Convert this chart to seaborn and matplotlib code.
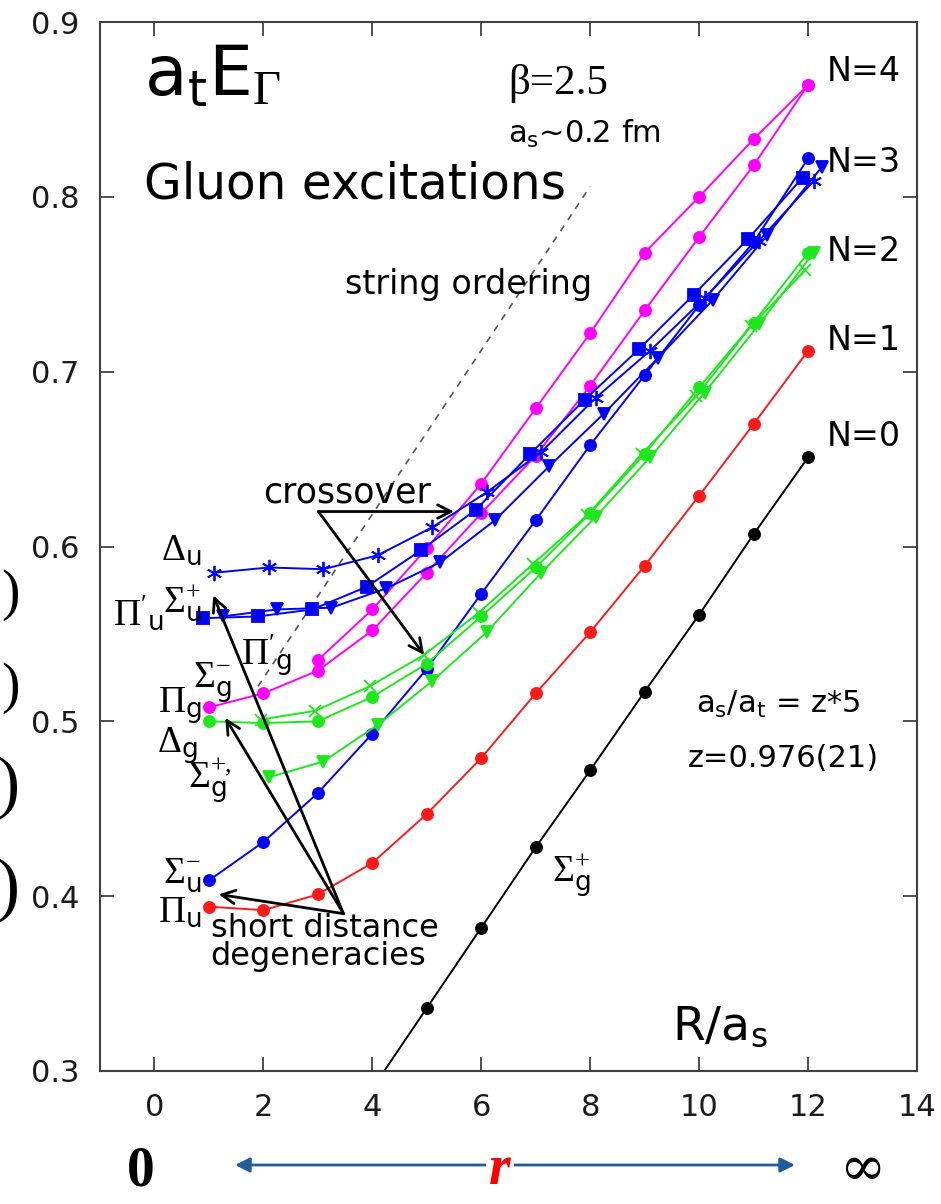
import matplotlib
matplotlib.use('Agg')
import matplotlib.pyplot as plt
import numpy as np
import seaborn as sns

# separations R/a_s
R_1 = list(range(1, 13))
R_2 = list(range(2, 13))
R_3 = list(range(3, 13))
R_4 = list(range(4, 13))

# a_t E
sigma_g_plus = [0.290, 0.336, 0.382, 0.428, 0.472, 0.517, 0.561, 0.607, 0.651]          # R_4
pi_u = [0.394, 0.392, 0.401, 0.419, 0.447, 0.479, 0.516, 0.551, 0.589, 0.629, 0.670, 0.712]
sigma_u_minus = [0.409, 0.431, 0.459, 0.493, 0.530, 0.573, 0.615, 0.658, 0.698, 0.738, 0.774, 0.822]
delta_g = [0.500, 0.499, 0.500, 0.514, 0.533, 0.560, 0.588, 0.619, 0.653, 0.691, 0.728, 0.768]
pi_g_prime = [0.501, 0.506, 0.520, 0.538, 0.562, 0.590, 0.618, 0.653, 0.686, 0.726, 0.758]  # R_2
sigma_g_plus_prime = [0.468, 0.477, 0.498, 0.523, 0.551, 0.585, 0.617, 0.651, 0.688, 0.727, 0.768]  # R_2
pi_g = [0.508, 0.516, 0.529, 0.552, 0.585, 0.619, 0.652, 0.692, 0.735, 0.777, 0.818, 0.864]
sigma_g_minus = [0.535, 0.564, 0.599, 0.636, 0.679, 0.722, 0.768, 0.800, 0.833, 0.864]  # R_3
delta_u = [0.585, 0.588, 0.587, 0.595, 0.611, 0.631, 0.654, 0.685, 0.712, 0.742, 0.775, 0.809]
sigma_u_plus = [0.559, 0.560, 0.564, 0.577, 0.598, 0.621, 0.653, 0.684, 0.713, 0.744, 0.776, 0.811]
pi_u_prime = [0.560, 0.564, 0.565, 0.576, 0.591, 0.615, 0.646, 0.676, 0.708, 0.741, 0.778, 0.817]

# dashed "string ordering" guide
string_x = [1.9, 8.0]
string_y = [0.520, 0.806]

MAG, BLU, GRN, RED = '#ff00ff', '#0000ff', '#1de81d', '#ff1a1a'

series = [
    # x, y, colour, marker, x-shift
    (R_4, sigma_g_plus, 'black', 'o', 0.0),
    (R_1, pi_u, RED, 'o', 0.0),
    (R_1, sigma_u_minus, BLU, 'o', 0.0),
    (R_1, delta_g, GRN, 'o', 0.0),
    (R_2, pi_g_prime, GRN, 'x', -0.05),
    (R_2, sigma_g_plus_prime, GRN, 'v', 0.1),
    (R_1, pi_g, MAG, 'o', 0.0),
    (R_3, sigma_g_minus, MAG, 'o', 0.0),
    (R_1, delta_u, BLU, (6, 2, 0), 0.1),
    (R_1, sigma_u_plus, BLU, 's', -0.1),
    (R_1, pi_u_prime, BLU, 'v', 0.25),
]

sns.set_theme(style='ticks')
plt.rcParams['font.family'] = ['DejaVu Sans']
plt.rcParams['text.color'] = 'black'
plt.rcParams['mathtext.fontset'] = 'custom'
plt.rcParams['mathtext.rm'] = 'Liberation Serif'
plt.rcParams['mathtext.it'] = 'Liberation Serif:italic'
plt.rcParams['mathtext.bf'] = 'Liberation Serif:bold'
plt.rcParams['mathtext.sf'] = 'DejaVu Sans'

fig = plt.figure(figsize=(9.41, 12.04), dpi=100)
ax = fig.add_axes([100 / 941, 1 - 1071 / 1204, 817 / 941, 1049 / 1204])

ax.plot(string_x, string_y, ls=(0, (4, 4)), color='#555555', lw=1.2)

for xs, ys, c, m, dx in series:
    ms = 11 if m == (6, 2, 0) else (9 if m in ('x', 'v') else 8)
    sns.lineplot(x=np.array(xs) + dx, y=ys, color=c, marker=m, markersize=ms,
                 markeredgecolor=c, markeredgewidth=1.3, lw=1.4, ax=ax,
                 sort=False, errorbar=None)

ax.set_xlim(-1, 14)
ax.set_ylim(0.3, 0.9)
ax.set_xticks(range(0, 15, 2))
ax.set_yticks([0.3, 0.4, 0.5, 0.6, 0.7, 0.8, 0.9])
ax.set_yticklabels(['0.3', '0.4', '0.5', '0.6', '0.7', '0.8', '0.9'])
ax.tick_params(direction='in', length=10, width=1.3, top=True, right=True,
               labelsize=22, colors='#404040', labelcolor='#1a1a1a')
ax.tick_params(axis='x', pad=16)
ax.tick_params(axis='y', pad=15)
for s in ax.spines.values():
    s.set_color('#404040')
    s.set_linewidth(1.5)

# titles and notes
ax.text(-0.2, 0.858, r'$\mathsf{a_tE}_{\Gamma}$', fontsize=50, va='baseline')
ax.text(-0.2, 0.799, 'Gluon excitations', fontsize=35, va='baseline')
ax.text(6.5, 0.859, 'β=2.5', fontsize=31, va='baseline', family='Liberation Serif')
ax.text(6.5, 0.831, r'$\mathsf{a_s}$~0.2 fm', fontsize=22, va='baseline')
ax.text(3.5, 0.750, 'string ordering', fontsize=24, va='center')
ax.text(2.0, 0.631, 'crossover', fontsize=25, va='center')
ax.text(1.03, 0.3765, 'short distance', fontsize=23, va='baseline')
ax.text(1.03, 0.3605, 'degeneracies', fontsize=23, va='baseline')
ax.text(9.95, 0.505, r'$\mathsf{a_s/a_t}$ = z*5', fontsize=22, va='baseline')
ax.text(9.8, 0.474, 'z=0.976(21)', fontsize=22, va='baseline')
ax.text(9.5, 0.318, r'R/$\mathsf{a_s}$', fontsize=34, va='baseline')

for lab, yv in zip(['N=4', 'N=3', 'N=2', 'N=1', 'N=0'], [0.8715, 0.8195, 0.769, 0.7176, 0.6627]):
    ax.text(12.35, yv, lab, fontsize=24, va='center')

# state labels
sty = dict(fontsize=27, va='center')
ax.text(0.87, 0.598, r'$\Delta_{\mathsf{u}}$', ha='right', **sty)
ax.text(0.87, 0.568, r'$\Sigma^{+}_{\mathsf{u}}$', ha='right', **sty)
ax.text(0.16, 0.562, r"$\Pi'_{\mathsf{u}}$", ha='right', **sty)
ax.text(1.58, 0.538, r"$\Pi'_{\mathsf{g}}$", ha='left', **sty)
ax.text(1.42, 0.522, r'$\Sigma^{-}_{\mathsf{g}}$', ha='right', **sty)
ax.text(0.87, 0.509, r'$\Pi_{\mathsf{g}}$', ha='right', **sty)
ax.text(0.80, 0.486, r'$\Delta_{\mathsf{g}}$', ha='right', **sty)
ax.text(0.62, 0.466, r'$\Sigma^{+,}_{\mathsf{g}}$', ha='left', **sty)
ax.text(0.87, 0.412, r'$\Sigma^{-}_{\mathsf{u}}$', ha='right', **sty)
ax.text(0.87, 0.391, r'$\Pi_{\mathsf{u}}$', ha='right', **sty)
ax.text(7.3, 0.412, r'$\Sigma^{+}_{\mathsf{g}}$', ha='left', **sty)

arr = dict(arrowstyle='->', color='black', lw=2, mutation_scale=24, shrinkA=0, shrinkB=0)
for tip in [(5.5, 0.620), (4.95, 0.538)]:
    ax.annotate('', xy=tip, xytext=(3.01, 0.620), arrowprops=arr)
for tip in [(1.18, 0.401), (1.30, 0.502), (1.08, 0.572)]:
    ax.annotate('', xy=tip, xytext=(3.47, 0.390), arrowprops=arr)

# bottom strip: 0 <-- r --> infinity
fig.text(141 / 941, 1 - 1172 / 1204, '0', fontsize=40, weight='bold',
         family='Liberation Serif', ha='center', va='center')
fig.text(862 / 941, 1 - 1170 / 1204, '∞', fontsize=40, family='DejaVu Serif',
         ha='center', va='center')
ax.annotate('', xy=(235 / 941, 1 - 1165 / 1204), xytext=(795 / 941, 1 - 1165 / 1204),
            xycoords='figure fraction', textcoords='figure fraction',
            arrowprops=dict(arrowstyle='<|-|>', color='#1f5c99', lw=2,
                            mutation_scale=22, shrinkA=0, shrinkB=0))
fig.text(500 / 941, 1 - 1170 / 1204, 'r', fontsize=40, weight='bold', style='italic',
         color='red', family='Liberation Serif', ha='center', va='center',
         bbox=dict(facecolor='white', edgecolor='none', pad=2))

# cropped parentheses on the left edge of the slide
for yc, fs in [(595, 40), (688, 40), (788, 50), (890, 52)]:
    fig.text(20 / 941, 1 - yc / 1204, ')', fontsize=fs, family='Liberation Serif',
             ha='right', va='center')

fig.savefig('out.png', dpi=100)
